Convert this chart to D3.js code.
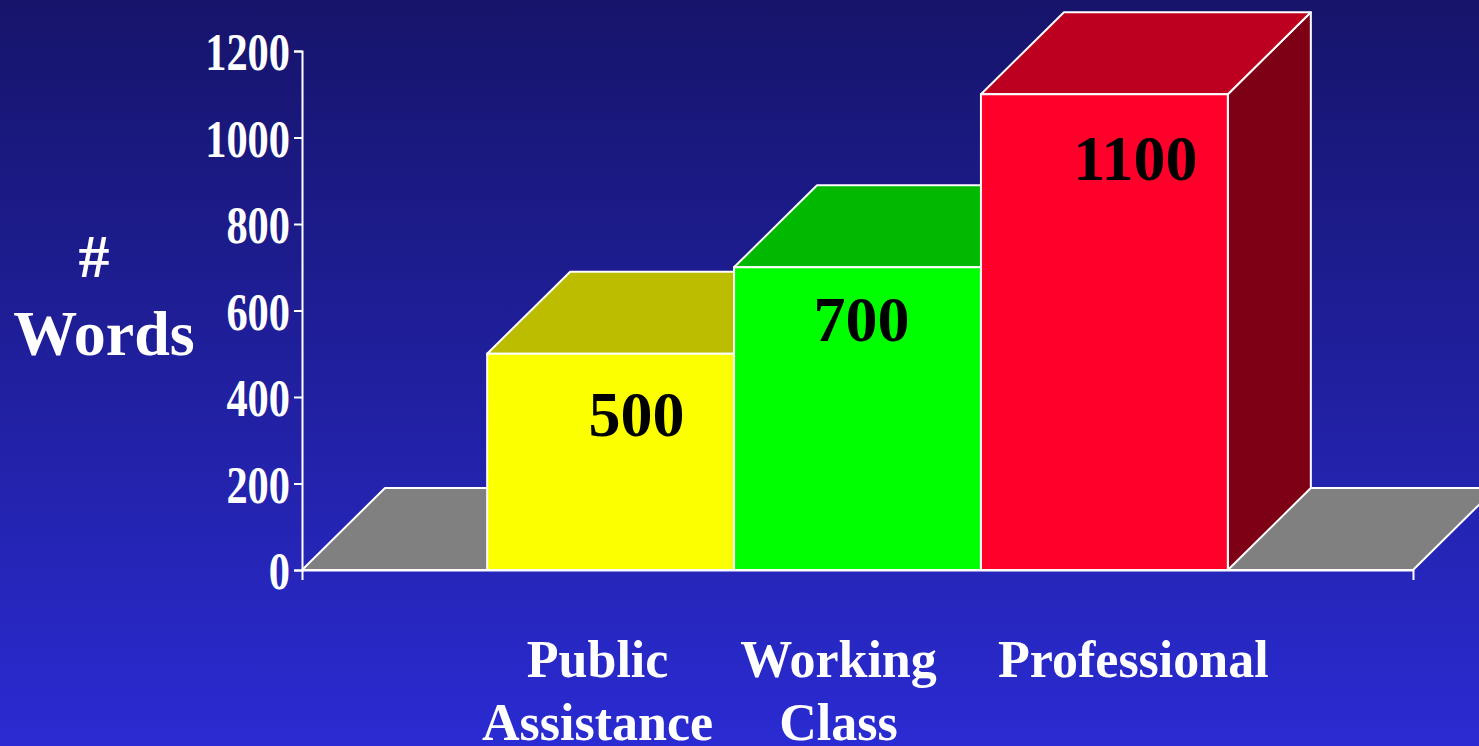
<!DOCTYPE html>
<html>
<head>
<meta charset="utf-8">
<script src="https://cdn.jsdelivr.net/npm/d3@7"></script>
<style>
    html, body { margin: 0; padding: 0; overflow: hidden; }
    svg { display: block; }
    text { font-family: "Times New Roman", "Liberation Serif", serif; font-weight: bold; }
</style>
</head>
<body>
<div class="svg-container"></div>
<script>
// data
var categories = ["Public Assistance", "Working Class", "Professional"];
var categoryLines = [["Public", "Assistance"], ["Working", "Class"], ["Professional"]];
var words = [500, 700, 1100];
var yTicks = [0, 200, 400, 600, 800, 1000, 1200];

// colours per bar: front, top, side
var frontColors = ["#fbff00", "#00ff00", "#ff002b"];
var topColors = ["#bdbd00", "#00b900", "#bd0020"];
var sideColors = ["#7d7d00", "#007a00", "#7d0014"];

// label nudges (relative to bar centre / top)
var labelDx = [26, 4, 31];
var labelDy = [82, 74, 86];
var catDx = [-13, -19, 29];

var width = 1479;
var height = 746;
var depthX = 83;
var depthY = 82;

var svg = d3.select(".svg-container").append("svg")
    .attr("width", width)
    .attr("height", height);

// background gradient
var defs = svg.append("defs");
var grad = defs.append("linearGradient")
    .attr("id", "bg")
    .attr("x1", 0).attr("y1", 0)
    .attr("x2", 0).attr("y2", 1);
grad.append("stop").attr("offset", "0%").attr("stop-color", "#16146a");
grad.append("stop").attr("offset", "100%").attr("stop-color", "#2a2bd2");

svg.append("rect")
    .attr("width", width)
    .attr("height", height)
    .attr("fill", "url(#bg)");

// scales
var x = d3.scaleBand()
    .domain(categories)
    .range([302, 1413])
    .paddingInner(0)
    .paddingOuter(0.75);

var y = d3.scaleLinear()
    .domain([0, 1200])
    .range([570, 51]);

var x0 = x.range()[0];
var x1 = x.range()[1];
var y0 = y(0);

// floor
svg.append("path")
    .attr("d", d3.line()([
        [x0, y0], [x1, y0], [x1 + depthX, y0 - depthY], [x0 + depthX, y0 - depthY]
    ]) + "Z")
    .attr("fill", "#808080")
    .attr("stroke", "#fff")
    .attr("stroke-width", 2)
    .attr("stroke-linejoin", "round");

// bars
var bars = svg.selectAll(".bar")
    .data(words)
    .enter().append("g")
    .attr("class", "bar");

bars.each(function(d, i) {
    var g = d3.select(this);
    var bx = x(categories[i]);
    var bw = x.bandwidth();
    var top = y(d);

    // right side
    g.append("path")
        .attr("d", d3.line()([
            [bx + bw, top], [bx + bw + depthX, top - depthY],
            [bx + bw + depthX, y0 - depthY], [bx + bw, y0]
        ]) + "Z")
        .attr("fill", sideColors[i])
        .attr("stroke", "#fff")
        .attr("stroke-width", 2)
        .attr("stroke-linejoin", "round");

    // top
    g.append("path")
        .attr("d", d3.line()([
            [bx, top], [bx + depthX, top - depthY],
            [bx + bw + depthX, top - depthY], [bx + bw, top]
        ]) + "Z")
        .attr("fill", topColors[i])
        .attr("stroke", "#fff")
        .attr("stroke-width", 2)
        .attr("stroke-linejoin", "round");

    // front
    g.append("rect")
        .attr("x", bx)
        .attr("y", top)
        .attr("width", bw)
        .attr("height", y0 - top)
        .attr("fill", frontColors[i])
        .attr("stroke", "#fff")
        .attr("stroke-width", 2);

    // value label
    g.append("text")
        .attr("x", bx + bw / 2 + labelDx[i])
        .attr("y", top + labelDy[i])
        .attr("text-anchor", "middle")
        .attr("font-size", 64)
        .attr("fill", "#000")
        .text(d);
});

// Y axis
var yAxis = svg.append("g")
    .attr("transform", "translate(" + x0 + ",0)")
    .call(d3.axisLeft(y).tickValues(yTicks).tickFormat(d3.format("d")).tickSize(8).tickSizeOuter(8));

yAxis.select(".domain").attr("stroke", "#fff").attr("stroke-width", 2);
yAxis.selectAll(".tick line").attr("stroke", "#fff").attr("stroke-width", 2);
yAxis.selectAll(".tick text")
    .attr("fill", "#fff")
    .attr("font-size", 53)
    .attr("font-family", null)
    .attr("x", -15)
    .attr("dy", "0.35em")
    .attr("transform", "scale(0.8,1)");

// X axis
var xAxis = svg.append("g")
    .attr("transform", "translate(0," + y0 + ")")
    .call(d3.axisBottom(x).tickSizeInner(0).tickSizeOuter(10).tickFormat(""));

xAxis.select(".domain").attr("stroke", "#fff").attr("stroke-width", 2);
xAxis.selectAll(".tick").remove();

// category labels
var catLabels = svg.selectAll(".cat")
    .data(categoryLines)
    .enter().append("text")
    .attr("class", "cat")
    .attr("text-anchor", "middle")
    .attr("font-size", 52)
    .attr("fill", "#fff");

catLabels.each(function(lines, i) {
    var t = d3.select(this);
    var cx = x(categories[i]) + x.bandwidth() / 2 + catDx[i];
    lines.forEach(function(line, j) {
        t.append("tspan")
            .attr("x", cx)
            .attr("y", 677 + j * 63)
            .text(line);
    });
});

// Y axis label
svg.append("text")
    .attr("x", 94)
    .attr("y", 277)
    .attr("text-anchor", "middle")
    .attr("font-size", 62)
    .attr("fill", "#fff")
    .text("#");

svg.append("text")
    .attr("x", 104)
    .attr("y", 355)
    .attr("text-anchor", "middle")
    .attr("font-size", 64)
    .attr("fill", "#fff")
    .text("Words");
</script>
</body>
</html>
